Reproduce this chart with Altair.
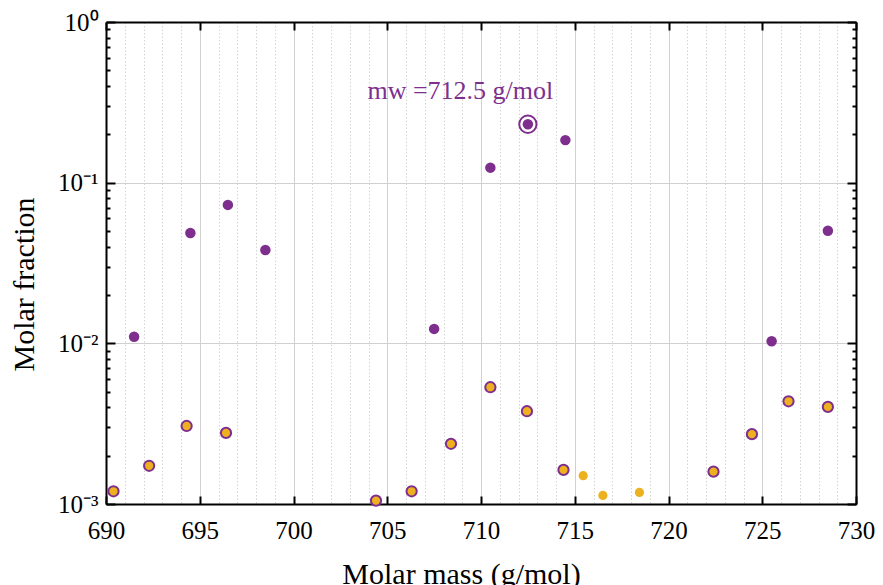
import altair as alt
import pandas as pd

# ---- data ----
purple_x = [691.5, 694.5, 696.5, 698.5, 707.5, 710.5, 712.5, 714.5, 725.5, 728.5]
purple_y = [0.0110, 0.0486, 0.0727, 0.0381, 0.0123, 0.124, 0.231, 0.184, 0.0103, 0.0502]

outlined_x = [690.4, 692.3, 694.3, 696.4, 704.4, 706.3, 708.4, 710.5, 712.45, 714.4,
              722.4, 724.45, 726.4, 728.5]
outlined_y = [0.00120, 0.00173, 0.00306, 0.00277, 0.00105, 0.00120, 0.00237, 0.00533,
              0.00378, 0.00163, 0.00159, 0.00272, 0.00436, 0.00402]

orange_x = [715.45, 716.5, 718.45]
orange_y = [0.00150, 0.00113, 0.00118]

mw_x = [712.5]
mw_y = [0.231]

label_text = ["mw =712.5 g/mol"]
label_x = [708.9]
label_y = [0.372]

x_ticks = list(range(690, 731))
y_ticks = [m * 10.0 ** e for e in (-3, -2, -1) for m in range(1, 10)] + [1.0]

PURPLE = "#7E2F8E"
ORANGE = "#EDB120"
FONT = "Liberation Serif"

df_p = pd.DataFrame({"mass": purple_x, "frac": purple_y})
df_o = pd.DataFrame({"mass": outlined_x, "frac": outlined_y})
df_y = pd.DataFrame({"mass": orange_x, "frac": orange_y})
df_mw = pd.DataFrame({"mass": mw_x, "frac": mw_y})
df_lab = pd.DataFrame({"mass": label_x, "frac": label_y, "text": label_text})

xscale = alt.Scale(domain=[690, 730], nice=False, zero=False)
yscale = alt.Scale(type="log", domain=[0.001, 1], nice=False)

MAJX = "datum.value % 5 === 0"
LOGV = "round(log(datum.value)/LN10)"
DEC = f"abs(log(datum.value)/LN10 - {LOGV}) < 1e-6"

ylabel_expr = (
    f"{DEC} ? ({LOGV} == 0 ? '10⁰' : {LOGV} == -1 ? '10⁻¹' : "
    f"{LOGV} == -2 ? '10⁻²' : {LOGV} == -3 ? '10⁻³' : '') : ''"
)

x_bottom = alt.Axis(
    values=x_ticks,
    labelExpr=f"{MAJX} ? datum.label : ''",
    labelOverlap=False,
    labelFlush=False,
    labelFont=FONT, labelFontSize=25, labelColor="black",
    labelPadding=22,
    tickSize=alt.ExprRef(expr=f"{MAJX} ? -8 : 0"),
    tickWidth=2, tickColor="black",
    domainColor="black", domainWidth=2,
    grid=True,
    gridColor=alt.ExprRef(expr=f"{MAJX} ? '#d0d0d0' : '#d4d4d4'"),
    gridDash=alt.ExprRef(expr=f"{MAJX} ? [] : [1.5, 2]"),
    gridWidth=1,
    title="Molar mass (g/mol)",
    titleFont=FONT, titleFontSize=30, titleFontWeight="normal", titleColor="black",
    titleX=355, titleY=79, titleAlign="center", titleBaseline="alphabetic",
)

y_left = alt.Axis(
    values=y_ticks,
    labelExpr=ylabel_expr,
    labelOverlap=False,
    labelFlush=False,
    labelFont=FONT, labelFontSize=25, labelColor="black",
    labelPadding=17,
    tickSize=alt.ExprRef(expr=f"{DEC} ? -9 : -4"),
    tickWidth=2, tickColor="black",
    domainColor="black", domainWidth=2,
    grid=True,
    gridColor="#d0d0d0",
    gridOpacity=alt.ExprRef(expr=f"{DEC} ? 1 : 0"),
    gridWidth=1,
    title="Molar fraction",
    titleFont=FONT, titleFontSize=30, titleFontWeight="normal", titleColor="black",
    titleX=-73, titleY=262, titleAngle=270, titleAlign="center", titleBaseline="alphabetic",
)

x_top = alt.Axis(
    orient="top", values=x_ticks, labels=False, title=None, grid=False,
    tickSize=alt.ExprRef(expr=f"{MAJX} ? -8 : 0"),
    tickWidth=2, tickColor="black", domainColor="black", domainWidth=2,
)
y_right = alt.Axis(
    orient="right", values=y_ticks, labels=False, title=None, grid=False,
    tickSize=alt.ExprRef(expr=f"{DEC} ? -9 : -4"),
    tickWidth=2, tickColor="black", domainColor="black", domainWidth=2,
)

frame = alt.Chart(df_p).mark_circle(opacity=0).encode(
    x=alt.X("mass:Q", scale=xscale, axis=x_top),
    y=alt.Y("frac:Q", scale=yscale, axis=y_right),
)

outlined = alt.Chart(df_o).mark_circle(
    color=ORANGE, opacity=1, stroke=PURPLE, strokeWidth=2, size=105
).encode(
    x=alt.X("mass:Q", scale=xscale, axis=x_bottom),
    y=alt.Y("frac:Q", scale=yscale, axis=y_left),
)

oranges = alt.Chart(df_y).mark_circle(color=ORANGE, opacity=1, size=85).encode(
    x=alt.X("mass:Q", scale=xscale, axis=None),
    y=alt.Y("frac:Q", scale=yscale, axis=None),
)

purples = alt.Chart(df_p).mark_circle(color=PURPLE, opacity=1, size=110).encode(
    x=alt.X("mass:Q", scale=xscale, axis=None),
    y=alt.Y("frac:Q", scale=yscale, axis=None),
)

ring = alt.Chart(df_mw).mark_point(
    shape="circle", filled=False, color=PURPLE, size=300, strokeWidth=2, opacity=1
).encode(
    x=alt.X("mass:Q", scale=xscale, axis=None),
    y=alt.Y("frac:Q", scale=yscale, axis=None),
)

label = alt.Chart(df_lab).mark_text(
    font=FONT, fontSize=26, color=PURPLE, align="center", baseline="middle"
).encode(
    x=alt.X("mass:Q", scale=xscale, axis=None),
    y=alt.Y("frac:Q", scale=yscale, axis=None),
    text="text:N",
)

chart = (
    alt.layer(outlined, frame, oranges, purples, ring, label)
    .resolve_axis(x="independent", y="independent")
    .properties(
        width=750, height=482,
        autosize=alt.AutoSizeParams(type="none"),
        padding={"left": 106, "top": 22, "right": 27, "bottom": 81},
        background="white",
    )
    .configure_view(stroke=None)
)

chart.save("out.html", embed_options={"renderer": "svg", "actions": False})
